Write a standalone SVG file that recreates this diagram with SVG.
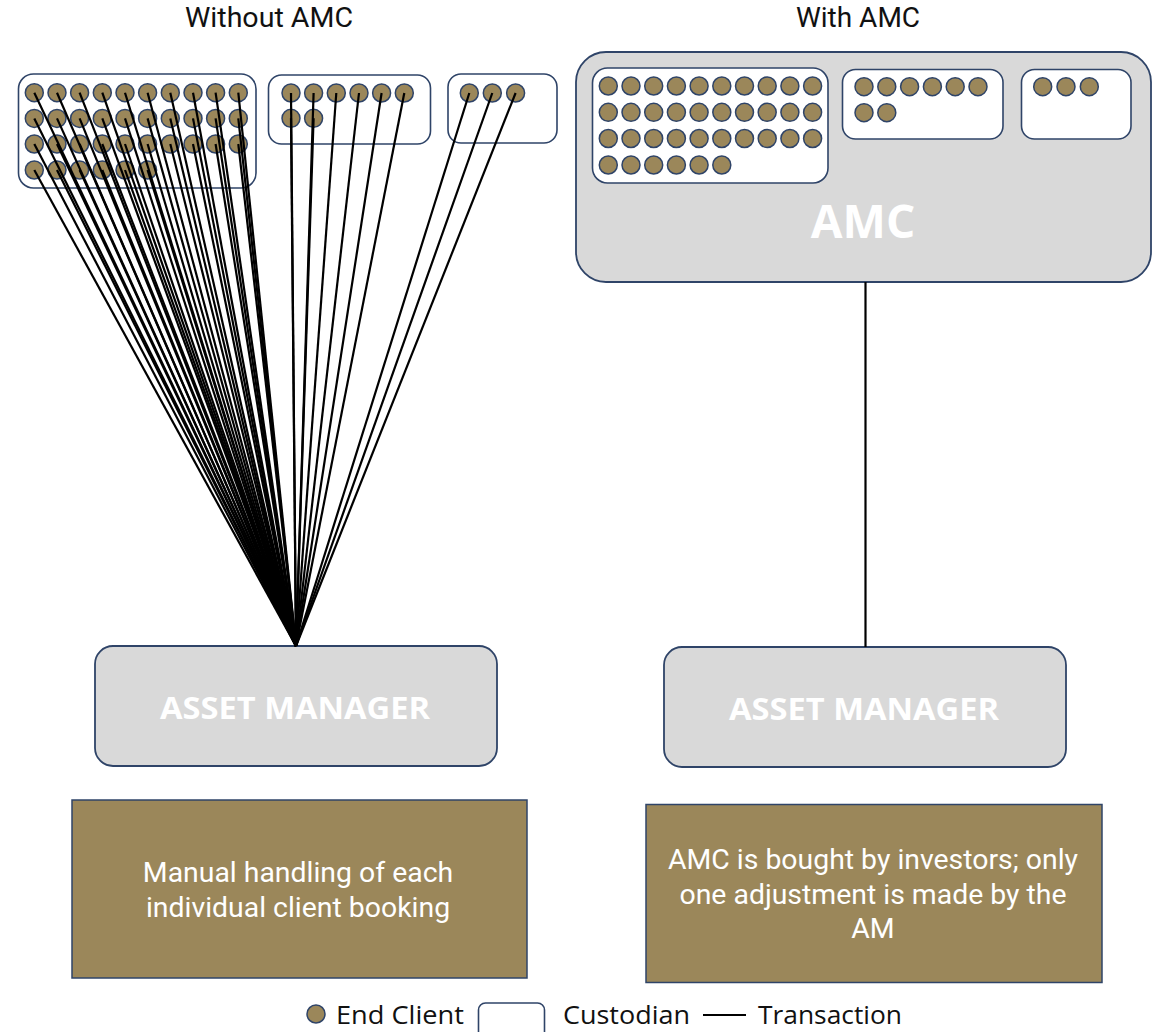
<svg xmlns="http://www.w3.org/2000/svg" width="1166" height="1032" viewBox="0 0 1166 1032">
<style>
.title{font-family:Roboto,"Liberation Sans",sans-serif;font-size:28px;fill:#111;text-anchor:middle}
.cust{fill:#ffffff;stroke:#2f4468;stroke-width:1.6}
.cl{fill:#9b875a;stroke:#2f4468;stroke-width:1.5}
.gray{fill:#d9d9d9;stroke:#2f4468;stroke-width:1.8}
.am{font-family:"Open Sans","Liberation Sans",sans-serif;font-weight:bold;font-size:30px;fill:#ffffff;text-anchor:middle}
.amc{font-family:"Open Sans","Liberation Sans",sans-serif;font-weight:bold;font-size:46px;fill:#ffffff;text-anchor:middle}
.brown{fill:#9b875a;stroke:#2f4468;stroke-width:1.5}
.bt{font-family:Roboto,"Liberation Sans",sans-serif;font-size:28.4px;fill:#ffffff;text-anchor:middle}
.leg{font-family:"Open Sans","Liberation Sans",sans-serif;font-size:26px;fill:#111}
.tx line{stroke:#000;stroke-width:2.2}
</style>
<defs>
<circle id="c" r="9" class="cl"/>
</defs>

<text class="title" x="269" y="27" textLength="168" lengthAdjust="spacingAndGlyphs">Without AMC</text>
<text class="title" x="858" y="27">With AMC</text>

<g id="left-custodian-1">
<rect class="cust" x="18.5" y="74" width="237.5" height="114" rx="15"/>
<g class="cl">
<use href="#c" x="34.3" y="92.7"/><use href="#c" x="57" y="92.7"/><use href="#c" x="79.6" y="92.7"/><use href="#c" x="102.3" y="92.7"/><use href="#c" x="125" y="92.7"/><use href="#c" x="147.6" y="92.7"/><use href="#c" x="170.3" y="92.7"/><use href="#c" x="193" y="92.7"/><use href="#c" x="215.6" y="92.7"/><use href="#c" x="238.3" y="92.7"/>
<use href="#c" x="34.3" y="118.4"/><use href="#c" x="57" y="118.4"/><use href="#c" x="79.6" y="118.4"/><use href="#c" x="102.3" y="118.4"/><use href="#c" x="125" y="118.4"/><use href="#c" x="147.6" y="118.4"/><use href="#c" x="170.3" y="118.4"/><use href="#c" x="193" y="118.4"/><use href="#c" x="215.6" y="118.4"/><use href="#c" x="238.3" y="118.4"/>
<use href="#c" x="34.3" y="144"/><use href="#c" x="57" y="144"/><use href="#c" x="79.6" y="144"/><use href="#c" x="102.3" y="144"/><use href="#c" x="125" y="144"/><use href="#c" x="147.6" y="144"/><use href="#c" x="170.3" y="144"/><use href="#c" x="193" y="144"/><use href="#c" x="215.6" y="144"/><use href="#c" x="238.3" y="144"/>
<use href="#c" x="34.3" y="170"/><use href="#c" x="57" y="170"/><use href="#c" x="79.6" y="170"/><use href="#c" x="102.3" y="170"/><use href="#c" x="125" y="170"/><use href="#c" x="147.6" y="170"/>
</g>
</g>

<g id="left-custodian-2">
<rect class="cust" x="268.5" y="75" width="162" height="69" rx="13"/>
<use href="#c" x="291" y="93"/><use href="#c" x="313.6" y="93"/><use href="#c" x="336.3" y="93"/><use href="#c" x="359" y="93"/><use href="#c" x="381.6" y="93"/><use href="#c" x="404.3" y="93"/>
<use href="#c" x="291" y="118.3"/><use href="#c" x="313.6" y="118.3"/>
</g>

<g id="left-custodian-3">
<rect class="cust" x="448" y="74" width="109" height="69" rx="13"/>
<use href="#c" x="469.3" y="93"/><use href="#c" x="492.3" y="93"/><use href="#c" x="515.6" y="93"/>
</g>

<g id="amc">
<rect class="gray" x="576" y="52" width="575" height="230" rx="30"/>
<text class="amc" x="863" y="238">AMC</text>
<g id="amc-custodian-1">
<rect class="cust" x="592.5" y="68" width="235.5" height="115" rx="15"/>
<use href="#c" x="608.3" y="86"/><use href="#c" x="631" y="86"/><use href="#c" x="653.7" y="86"/><use href="#c" x="676.4" y="86"/><use href="#c" x="699.1" y="86"/><use href="#c" x="721.8" y="86"/><use href="#c" x="744.5" y="86"/><use href="#c" x="767.2" y="86"/><use href="#c" x="789.9" y="86"/><use href="#c" x="812.6" y="86"/>
<use href="#c" x="608.3" y="112.3"/><use href="#c" x="631" y="112.3"/><use href="#c" x="653.7" y="112.3"/><use href="#c" x="676.4" y="112.3"/><use href="#c" x="699.1" y="112.3"/><use href="#c" x="721.8" y="112.3"/><use href="#c" x="744.5" y="112.3"/><use href="#c" x="767.2" y="112.3"/><use href="#c" x="789.9" y="112.3"/><use href="#c" x="812.6" y="112.3"/>
<use href="#c" x="608.3" y="138.5"/><use href="#c" x="631" y="138.5"/><use href="#c" x="653.7" y="138.5"/><use href="#c" x="676.4" y="138.5"/><use href="#c" x="699.1" y="138.5"/><use href="#c" x="721.8" y="138.5"/><use href="#c" x="744.5" y="138.5"/><use href="#c" x="767.2" y="138.5"/><use href="#c" x="789.9" y="138.5"/><use href="#c" x="812.6" y="138.5"/>
<use href="#c" x="608.3" y="165"/><use href="#c" x="631" y="165"/><use href="#c" x="653.7" y="165"/><use href="#c" x="676.4" y="165"/><use href="#c" x="699.1" y="165"/><use href="#c" x="721.8" y="165"/>
</g>
<g id="amc-custodian-2">
<rect class="cust" x="842.5" y="69.5" width="160.5" height="69.5" rx="13"/>
<use href="#c" x="864" y="86.7"/><use href="#c" x="886.8" y="86.7"/><use href="#c" x="909.6" y="86.7"/><use href="#c" x="932.4" y="86.7"/><use href="#c" x="955.2" y="86.7"/><use href="#c" x="978" y="86.7"/>
<use href="#c" x="864" y="112.7"/><use href="#c" x="886.8" y="112.7"/>
</g>
<g id="amc-custodian-3">
<rect class="cust" x="1021.5" y="69.5" width="109.5" height="69.5" rx="13"/>
<use href="#c" x="1042.7" y="86.7"/><use href="#c" x="1066" y="86.7"/><use href="#c" x="1089.3" y="86.7"/>
</g>
</g>

<g id="asset-manager-left">
<rect class="gray" x="95" y="646" width="402" height="120" rx="18"/>
<text class="am" x="295" y="719" textLength="270" lengthAdjust="spacingAndGlyphs">ASSET MANAGER</text>
</g>
<g id="asset-manager-right">
<rect class="gray" x="664" y="647" width="402" height="120" rx="18"/>
<text class="am" x="864" y="720" textLength="270" lengthAdjust="spacingAndGlyphs">ASSET MANAGER</text>
</g>

<g id="note-left">
<rect class="brown" x="72" y="800" width="455" height="178"/>
<text class="bt" x="298" y="882">Manual handling of each</text>
<text class="bt" x="298" y="917">individual client booking</text>
</g>
<g id="note-right">
<rect class="brown" x="646" y="804.5" width="456" height="178"/>
<text class="bt" x="873" y="869">AMC is bought by investors; only</text>
<text class="bt" x="873" y="903.5">one adjustment is made by the</text>
<text class="bt" x="873" y="938">AM</text>
</g>

<g id="connectors" class="tx">
<line x1="34.3" y1="92.7" x2="296" y2="646"/><line x1="57" y1="92.7" x2="296" y2="646"/><line x1="79.6" y1="92.7" x2="296" y2="646"/><line x1="102.3" y1="92.7" x2="296" y2="646"/><line x1="125" y1="92.7" x2="296" y2="646"/><line x1="147.6" y1="92.7" x2="296" y2="646"/><line x1="170.3" y1="92.7" x2="296" y2="646"/><line x1="193" y1="92.7" x2="296" y2="646"/><line x1="215.6" y1="92.7" x2="296" y2="646"/><line x1="238.3" y1="92.7" x2="296" y2="646"/>
<line x1="34.3" y1="118.4" x2="296" y2="646"/><line x1="57" y1="118.4" x2="296" y2="646"/><line x1="79.6" y1="118.4" x2="296" y2="646"/><line x1="102.3" y1="118.4" x2="296" y2="646"/><line x1="125" y1="118.4" x2="296" y2="646"/><line x1="147.6" y1="118.4" x2="296" y2="646"/><line x1="170.3" y1="118.4" x2="296" y2="646"/><line x1="193" y1="118.4" x2="296" y2="646"/><line x1="215.6" y1="118.4" x2="296" y2="646"/><line x1="238.3" y1="118.4" x2="296" y2="646"/>
<line x1="34.3" y1="144" x2="296" y2="646"/><line x1="57" y1="144" x2="296" y2="646"/><line x1="79.6" y1="144" x2="296" y2="646"/><line x1="102.3" y1="144" x2="296" y2="646"/><line x1="125" y1="144" x2="296" y2="646"/><line x1="147.6" y1="144" x2="296" y2="646"/><line x1="170.3" y1="144" x2="296" y2="646"/><line x1="193" y1="144" x2="296" y2="646"/><line x1="215.6" y1="144" x2="296" y2="646"/><line x1="238.3" y1="144" x2="296" y2="646"/>
<line x1="34.3" y1="170" x2="296" y2="646"/><line x1="57" y1="170" x2="296" y2="646"/><line x1="79.6" y1="170" x2="296" y2="646"/><line x1="102.3" y1="170" x2="296" y2="646"/><line x1="125" y1="170" x2="296" y2="646"/><line x1="147.6" y1="170" x2="296" y2="646"/>
<line x1="291" y1="93" x2="296" y2="646"/><line x1="313.6" y1="93" x2="296" y2="646"/><line x1="336.3" y1="93" x2="296" y2="646"/><line x1="359" y1="93" x2="296" y2="646"/><line x1="381.6" y1="93" x2="296" y2="646"/><line x1="404.3" y1="93" x2="296" y2="646"/>
<line x1="291" y1="118.3" x2="296" y2="646"/><line x1="313.6" y1="118.3" x2="296" y2="646"/>
<line x1="469.3" y1="93" x2="296" y2="646"/><line x1="492.3" y1="93" x2="296" y2="646"/><line x1="515.6" y1="93" x2="296" y2="646"/>
<line x1="865.5" y1="282" x2="865.5" y2="647"/>
</g>

<g id="legend">
<circle cx="316" cy="1014" r="9" class="cl"/>
<text class="leg" x="336" y="1024" textLength="128" lengthAdjust="spacingAndGlyphs">End Client</text>
<rect class="cust" x="478.5" y="1003" width="66" height="44" rx="7"/>
<text class="leg" x="563" y="1024" textLength="127" lengthAdjust="spacingAndGlyphs">Custodian</text>
<line x1="703" y1="1015" x2="746" y2="1015" stroke="#000" stroke-width="2"/>
<text class="leg" x="758" y="1024" textLength="144" lengthAdjust="spacingAndGlyphs">Transaction</text>
</g>
</svg>
